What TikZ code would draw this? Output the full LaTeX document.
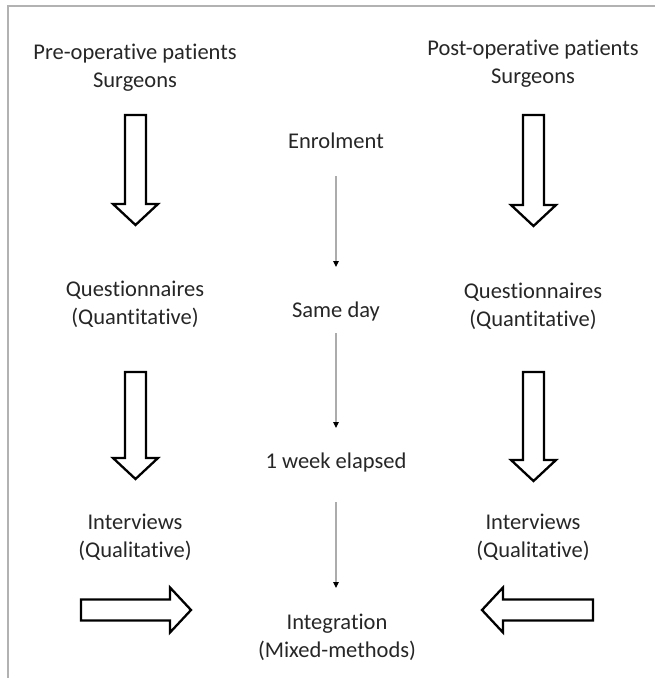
\documentclass[tikz,border=0pt]{standalone}
\usepackage{fontspec}
\setmainfont{Carlito}[Ligatures=NoCommon]
\usepackage{tikz}
\usetikzlibrary{arrows.meta}
\tikzset{>=stealth}
\tikzset{%
    lbl/.style={align=center, inner sep=0pt, text=black!85,
        font=\fontsize{22.5}{28}\selectfont},
    hollow/.style={draw=black, line width=2.3pt, line join=miter, fill=white},
    timeline/.style={draw=gray!65, line width=1.1pt,
        -{Triangle[length=6pt,width=5.5pt,black]}},
    frame/.style={draw=gray!60, line width=2pt}
}
\newcommand{\shaftw}{10.5}
\newcommand{\headw}{22.5}
\newcommand{\headl}{21}
% start, length, direction
\newcommand{\hollowarrow}[3]{%
    \draw[hollow, shift={(#1)}, rotate=#3]
        (0,-\shaftw) -- (#2-\headl,-\shaftw) -- (#2-\headl,-\headw) -- (#2,0)
        -- (#2-\headl,\headw) -- (#2-\headl,\shaftw) -- (0,\shaftw) -- cycle;}

\begin{document}
\begin{tikzpicture}[x=1pt,y=-1pt]
\useasboundingbox (0,0) rectangle (655,678);
\draw[frame] (7.5,678) -- (7.5,5.5) -- (655,5.5);

% the two groups
\node[lbl] (pre)   at (135,68)  {Pre-operative patients\\Surgeons};
\node[lbl] (post)  at (533,64)  {Post-operative patients\\Surgeons};
\node[lbl] (quesL) at (135,304) {Questionnaires\\(Quantitative)};
\node[lbl] (quesR) at (533,306) {Questionnaires\\(Quantitative)};
\node[lbl] (intL)  at (135,537) {Interviews\\(Qualitative)};
\node[lbl] (intR)  at (533,537) {Interviews\\(Qualitative)};

% time line
\node[lbl] (enrol) at (336,141) {Enrolment};
\node[lbl] (same)  at (336,311) {Same day};
\node[lbl] (week)  at (336,462) {1 week elapsed};
\node[lbl] (integ) at (337,637) {Integration\\(Mixed-methods)};

\draw[timeline] ([yshift=-35pt]enrol.center) -- ([yshift=44pt]same.center);
\draw[timeline] ([yshift=-22pt]same.center) -- ([yshift=34pt]week.center);
\draw[timeline] ([yshift=-40pt]week.center) -- ([yshift=49pt]week.center |- integ.center);

\coordinate (a1) at (135.5,115);
\coordinate (a2) at (135.5,372);
\coordinate (b1) at (533.5,115);
\coordinate (b2) at (533.5,372);
\coordinate (c1) at (81,610);
\coordinate (c2) at (593,610);

\hollowarrow{a1}{110}{-90}
\hollowarrow{a2}{107}{-90}
\hollowarrow{b1}{111}{-90}
\hollowarrow{b2}{109}{-90}
\hollowarrow{c1}{110}{0}
\hollowarrow{c2}{111}{180}
\end{tikzpicture}
\end{document}
